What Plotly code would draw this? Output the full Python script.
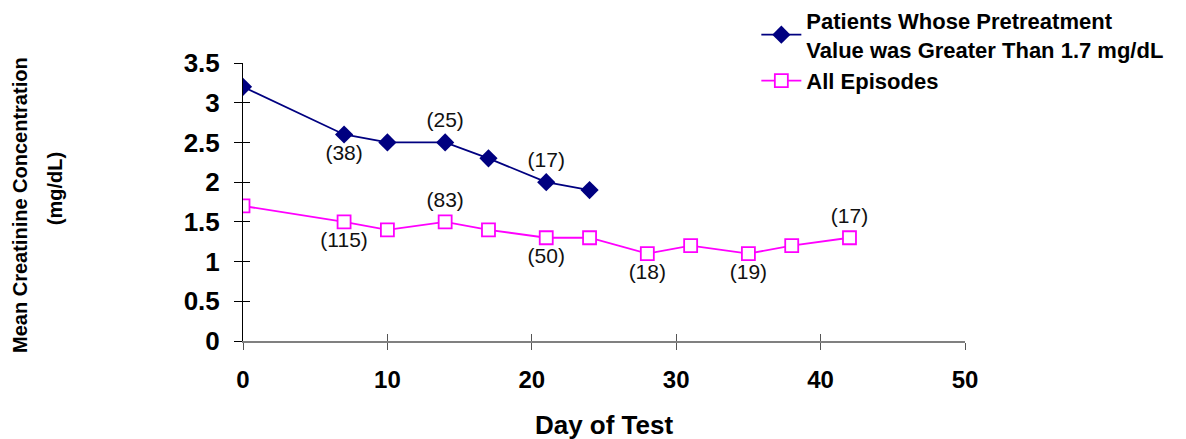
import plotly.graph_objects as go

# Data
days_high = [0, 7, 10, 14, 17, 21, 24]
vals_high = [3.2, 2.6, 2.5, 2.5, 2.3, 2.0, 1.9]
labels_high = ["", "(38)", "", "(25)", "", "(17)", ""]
pos_high = ["top center", "bottom center", "top center", "top center", "top center", "top center", "top center"]

days_all = [0, 7, 10, 14, 17, 21, 24, 28, 31, 35, 38, 42]
vals_all = [1.7, 1.5, 1.4, 1.5, 1.4, 1.3, 1.3, 1.1, 1.2, 1.1, 1.2, 1.3]
labels_all = ["", "(115)", "", "(83)", "", "(50)", "", "(18)", "", "(19)", "", "(17)"]
pos_all = ["top center", "bottom center", "top center", "top center", "top center", "bottom center",
           "top center", "bottom center", "top center", "bottom center", "top center", "top center"]

x_ticks = [0, 10, 20, 30, 40, 50]
y_ticks = [0, 0.5, 1, 1.5, 2, 2.5, 3, 3.5]
y_tick_text = ["0", "0.5", "1", "1.5", "2", "2.5", "3", "3.5"]

FONT = "Liberation Sans, Arial, sans-serif"

fig = go.Figure()
fig.add_trace(go.Scatter(
    x=days_high, y=vals_high, mode="lines+markers+text",
    name="<b>Patients Whose Pretreatment<br>Value was Greater Than 1.7 mg/dL</b>",
    line=dict(color="#000080", width=1.8),
    marker=dict(symbol="diamond", size=14, color="#000080"),
    text=labels_high, textposition=pos_high,
    textfont=dict(family=FONT, size=21, color="#111111"),
))
fig.add_trace(go.Scatter(
    x=days_all, y=vals_all, mode="lines+markers+text",
    name="<b>All Episodes</b>",
    line=dict(color="#FF00FF", width=1.8),
    marker=dict(symbol="square", size=13, color="white", line=dict(color="#FF00FF", width=1.8)),
    text=labels_all, textposition=pos_all,
    textfont=dict(family=FONT, size=21, color="#111111"),
))
# invisible trace on overlay axes so that inner tick halves are drawn
fig.add_trace(go.Scatter(x=[0], y=[0], xaxis="x2", yaxis="y2", mode="markers",
                         marker=dict(opacity=0), showlegend=False, hoverinfo="skip"))

fig.update_layout(
    width=1186, height=439,
    margin=dict(l=235, r=229, t=55, b=106, autoexpand=False),
    paper_bgcolor="white", plot_bgcolor="white",
    font=dict(family=FONT, color="black"),
    showlegend=True,
    legend=dict(x=0.711, y=1.228, xanchor="left", yanchor="top",
                font=dict(family=FONT, size=22, color="black"),
                bgcolor="rgba(0,0,0,0)", tracegroupgap=0, itemwidth=40),
    xaxis=dict(range=[0, 50], tickvals=x_ticks, ticks="outside", ticklen=7, tickwidth=1,
               tickcolor="#555555", showline=True, linecolor="#808080", linewidth=2,
               showgrid=False, zeroline=False, ticklabelstandoff=9, automargin=False,
               tickfont=dict(family=FONT, size=24, color="black", weight="bold"),
               title=dict(text="<b>Day of Test</b>", font=dict(family=FONT, size=26, color="black"),
                          standoff=24)),
    yaxis=dict(range=[0, 3.5], tickvals=y_ticks, ticktext=y_tick_text, ticks="outside", ticklen=8,
               tickcolor="black", showline=True, linecolor="black", linewidth=1,
               showgrid=False, zeroline=False, ticklabelstandoff=9, automargin=False,
               tickfont=dict(family=FONT, size=26, color="black", weight="bold")),
    xaxis2=dict(range=[0, 50], tickvals=x_ticks, ticks="inside", ticklen=7, tickwidth=1,
                tickcolor="#555555", showticklabels=False, showline=False, showgrid=False,
                zeroline=False, overlaying="x", anchor="y2", side="bottom"),
    yaxis2=dict(range=[0, 3.5], tickvals=y_ticks, ticks="inside", ticklen=7,
                tickcolor="black", showticklabels=False, showline=False, showgrid=False,
                zeroline=False, overlaying="y", anchor="x2", side="left"),
    annotations=[
        dict(text="<b>Mean Creatinine Concentration</b>", xref="paper", yref="paper",
             x=-0.309, y=0.489, textangle=-90, showarrow=False,
             font=dict(family=FONT, size=20, color="black"), xanchor="center", yanchor="middle"),
        dict(text="<b>(mg/dL)</b>", xref="paper", yref="paper",
             x=-0.260, y=0.547, textangle=-90, showarrow=False,
             font=dict(family=FONT, size=20, color="black"), xanchor="center", yanchor="middle"),
    ],
)

fig.write_html("out.html")
